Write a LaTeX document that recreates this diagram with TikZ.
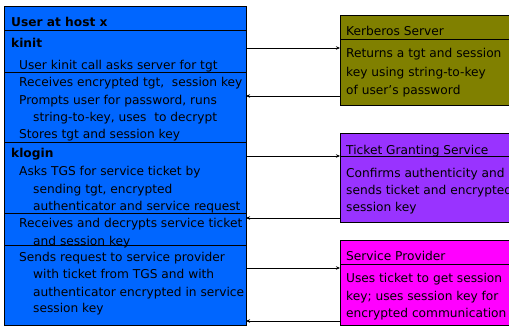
\documentclass[tikz,border=0pt]{standalone}
\usepackage{fontspec}
\setmainfont{DejaVu Sans}
\usetikzlibrary{arrows.meta}
\definecolor{hostblue}{RGB}{0,102,255}
\definecolor{kdcolive}{RGB}{128,128,0}
\definecolor{tgspurple}{RGB}{153,51,255}
\definecolor{svcmagenta}{RGB}{255,0,255}
\tikzset{
  line/.style={draw=black, line width=0.8pt},
  panel/.style={line, anchor=north west, inner sep=0pt, outer sep=0pt},
  txt/.style={anchor=base west, inner sep=0pt, font=\fontsize{12.2}{17}\selectfont},
  hdr/.style={txt, font=\fontsize{12.2}{17}\selectfont\bfseries},
  msg/.style={line width=0.8pt, -{Stealth[length=4pt,width=3.5pt]}}
}
\begin{document}
\begin{tikzpicture}[x=1pt,y=-1pt]
    \useasboundingbox (0,0) rectangle (509,327);
    % user side
    \node[panel, fill=hostblue, minimum width=242pt, minimum height=319pt] (host) at (4,6) {};
    \foreach \y in {30,72,142,213,245}
        \draw[line] (4,\y) -- (246,\y);
    \node[hdr] (hosttitle) at (11,26) {User at host x};
    \node[hdr] (kinit) at (11,47) {kinit};
    \node[hdr] (klogin) at (11,157) {klogin};
    \foreach \x/\y/\t [count=\i] in {
        19/69/{User kinit call asks server for tgt},
        19/86/{Receives encrypted tgt,\ \ session key},
        19/104/{Prompts user for password, runs},
        33/121/{string-to-key, uses\ \ to decrypt},
        19/138/{Stores tgt and session key},
        19/175/{Asks TGS for service ticket by},
        33/193/{sending tgt, encrypted},
        33/210/{authenticator and service request},
        19/227/{Receives and decrypts service ticket},
        33/245/{and session key},
        19/261/{Sends request to service provider},
        33/278/{with ticket from TGS and with},
        33/296/{authenticator encrypted in service},
        33/312/{session key}}
        \node[txt] (act\i) at (\x,\y) {\t};

    % servers
    \node[panel, fill=kdcolive, minimum width=175pt, minimum height=90pt] (kdc) at (340,15) {};
    \draw[line] (340,39) -- (515,39);
    \node[txt] (kdctitle) at (346,35) {Kerberos Server};
    \node[txt] (kdc1) at (346,57) {Returns a tgt and session};
    \node[txt] (kdc2) at (346,76) {key using string-to-key};
    \node[txt] (kdc3) at (346,94) {of user’s password};

    \node[panel, fill=tgspurple, minimum width=175pt, minimum height=89pt] (tgs) at (340,133) {};
    \draw[line] (340,156) -- (515,156);
    \node[txt] (tgstitle) at (346,154) {Ticket Granting Service};
    \node[txt] (tgs1) at (346,177) {Confirms authenticity and};
    \node[txt] (tgs2) at (346,194) {sends ticket and encrypted};
    \node[txt] (tgs3) at (346,211) {session key};

    \node[panel, fill=svcmagenta, minimum width=175pt, minimum height=85pt] (svc) at (340,240) {};
    \draw[line] (340,264) -- (515,264);
    \node[txt] (svctitle) at (346,260) {Service Provider};
    \node[txt] (svc1) at (346,282) {Uses ticket to get session};
    \node[txt] (svc2) at (346,300) {key; uses session key for};
    \node[txt] (svc3) at (346,317) {encrypted communication};

    % messages
    \coordinate (m1) at (0,48);
    \coordinate (m2) at (0,96);
    \coordinate (m3) at (0,156);
    \coordinate (m4) at (0,218);
    \coordinate (m5) at (0,268);
    \coordinate (m6) at (0,321);
    \draw[msg] (host.east |- m1) -- (kdc.west |- m1);
    \draw[msg] (kdc.west |- m2) -- (host.east |- m2);
    \draw[msg] (host.east |- m3) -- (tgs.west |- m3);
    \draw[msg] (tgs.west |- m4) -- (host.east |- m4);
    \draw[msg] (host.east |- m5) -- (svc.west |- m5);
    \draw[msg] (svc.west |- m6) -- (host.east |- m6);
\end{tikzpicture}
\end{document}
